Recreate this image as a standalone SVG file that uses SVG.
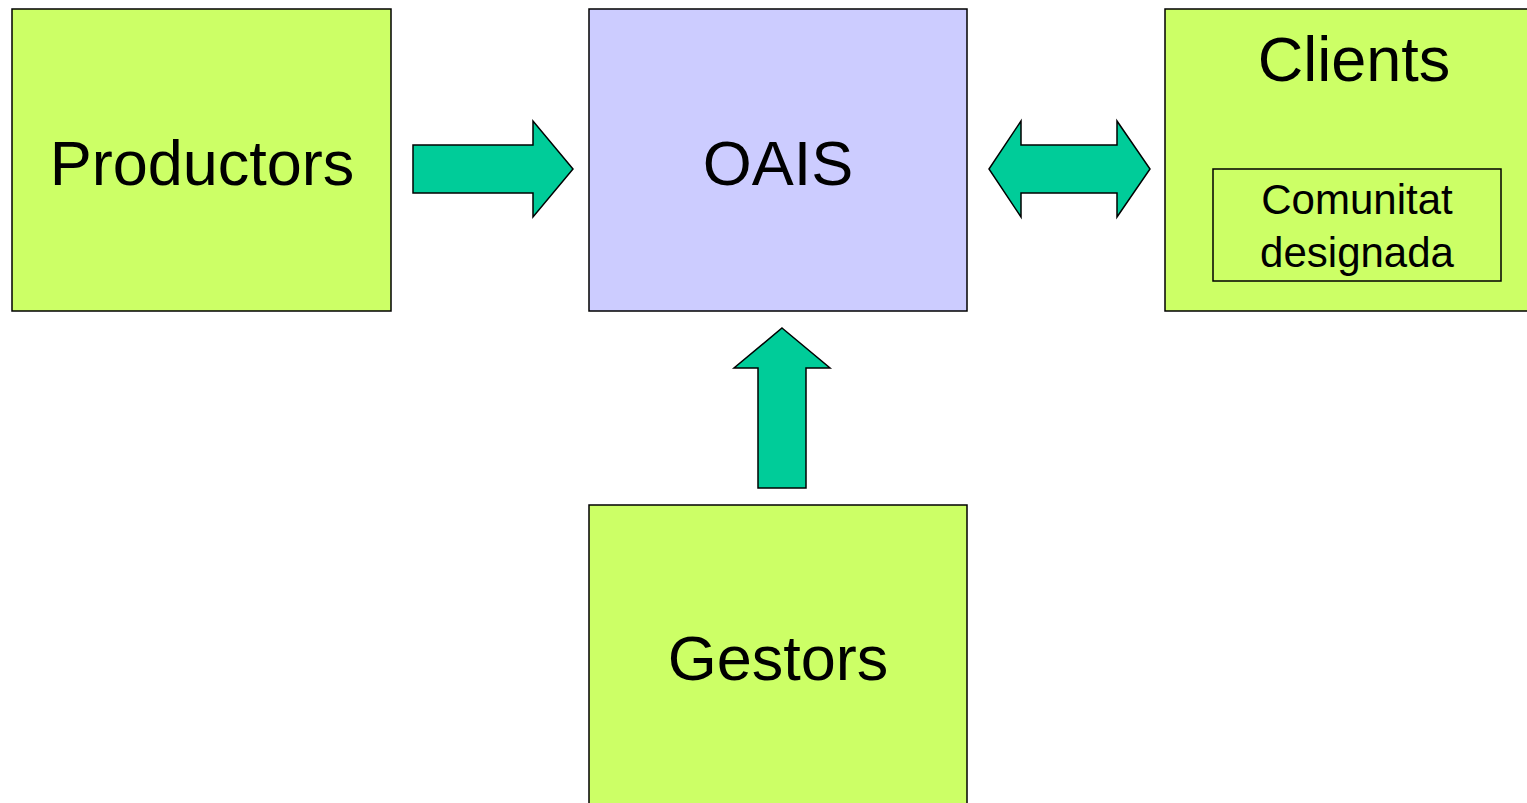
<svg xmlns="http://www.w3.org/2000/svg" width="1527" height="803" viewBox="0 0 1527 803">
  <style>
    .box { stroke: #000; stroke-width: 1.5; }
    .green { fill: #CCFF66; }
    .blue { fill: #CCCCFF; }
    .arrow { fill: #00CC99; stroke: #000; stroke-width: 1.5; stroke-linejoin: miter; }
    .label { font-family: "Liberation Sans", Arial, sans-serif; fill: #000; text-anchor: middle; }
    .big { font-size: 63px; }
    .small { font-size: 42px; }
  </style>
  <rect width="1527" height="803" fill="#fff"/>

  <g id="productors">
    <rect class="box green" x="12" y="9" width="379" height="302"/>
    <text class="label big" x="202" y="185">Productors</text>
  </g>

  <g id="oais">
    <rect class="box blue" x="589" y="9" width="378" height="302"/>
    <text class="label big" x="778" y="185">OAIS</text>
  </g>

  <g id="clients">
    <rect class="box green" x="1165" y="9" width="370" height="302"/>
    <text class="label big" x="1354" y="81">Clients</text>
    <g id="comunitat">
      <rect x="1213" y="169" width="288" height="112" fill="none" stroke="#000" stroke-width="1.5"/>
      <text class="label small" x="1357" y="214">Comunitat</text>
      <text class="label small" x="1357" y="267">designada</text>
    </g>
  </g>

  <g id="gestors">
    <rect class="box green" x="589" y="505" width="378" height="310"/>
    <text class="label big" x="778" y="680">Gestors</text>
  </g>

  <g id="connectors">
    <polygon class="arrow" points="413,145 533,145 533,121 573,169 533,217 533,193 413,193"/>
    <polygon class="arrow" points="989,169 1021,121 1021,145 1117,145 1117,121 1150,169 1117,217 1117,193 1021,193 1021,217"/>
    <polygon class="arrow" points="782,328 830,368 806,368 806,488 758,488 758,368 734,368"/>
  </g>
</svg>
